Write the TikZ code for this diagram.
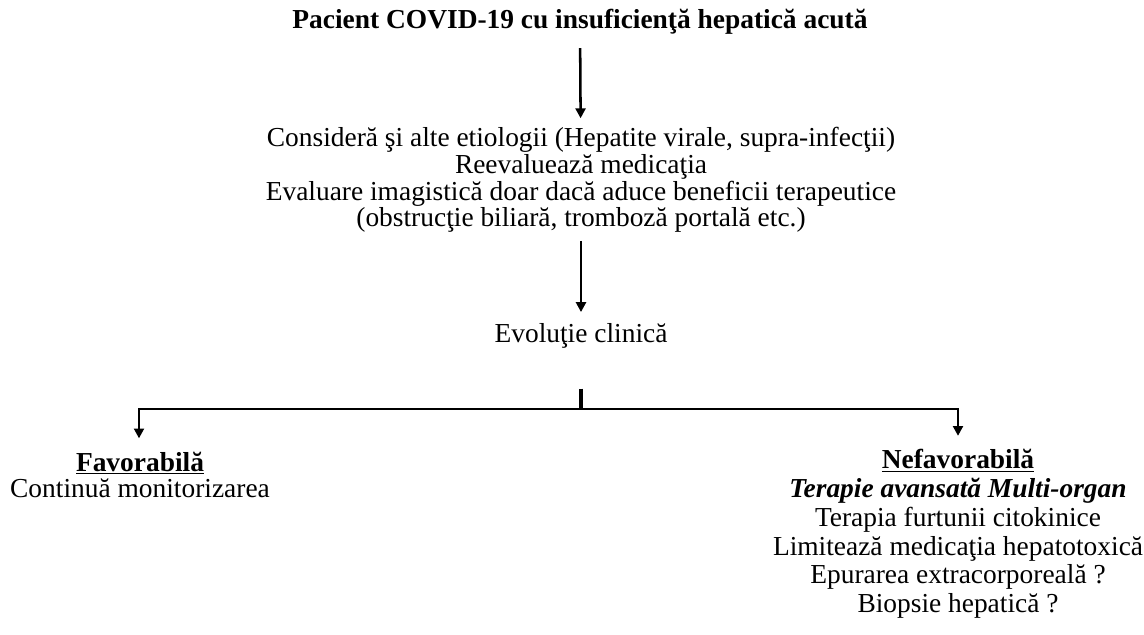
\documentclass[tikz,border=0pt]{standalone}
\usepackage{fontspec}
\setmainfont{Liberation Serif}
\usetikzlibrary{arrows.meta}

\tikzset{
  txt/.style={align=center, inner sep=0pt, font=\fontsize{19.5}{19}\selectfont},
  flow/.style={-{Triangle[length=7pt,width=7pt]}, line width=1.8pt},
  bar/.style={line width=2.6pt}
}

\begin{document}
\begin{tikzpicture}[x=0.025cm, y=-0.025cm]
		\useasboundingbox (0,0) rectangle (1144,635);
		\node[txt] at (580,22) (pac) {\textbf{Pacient COVID-19 cu insuficienţă hepatică acută}};
		\node[txt] at (581,180) (etio) {Consideră şi alte etiologii (Hepatite virale, supra-infecţii)\\Reevaluează medicaţia\\Evaluare imagistică doar dacă aduce beneficii terapeutice\\(obstrucţie biliară, tromboză portală etc.)};
		\node[txt] at (581,336) (evol) {Evoluţie clinică};
		\node[txt] at (140,475) (fav) {\underline{\textbf{Favorabilă}}\\Continuă monitorizarea};
		\node[txt, font=\fontsize{19.5}{20.5}\selectfont] at (958,534) (nefav) {\underline{\textbf{Nefavorabilă}}\\\textbf{\textit{Terapie avansată Multi-organ}}\\Terapia furtunii citokinice\\Limitează medicaţia hepatotoxică\\Epurarea extracorporeală ?\\Biopsie hepatică ?};
		\coordinate (split) at (581,409);
		\coordinate (lft) at (139,409);
		\coordinate (rgt) at (958,409);
		\draw[flow, shorten <=0.33cm, shorten >=0.22cm] (pac) -- (etio);
		\draw[flow, shorten <=0.2cm, shorten >=0.28cm] (etio) -- (evol);
		\draw[bar, shorten <=1cm] (evol.south) -- (split);
		\draw[flow, shorten >=0.33cm] (split) -- (lft) -- (lft |- fav.north);
		\draw[flow, shorten >=0.33cm] (split) -- (rgt) -- (rgt |- nefav.north);
	\end{tikzpicture}
\end{document}
